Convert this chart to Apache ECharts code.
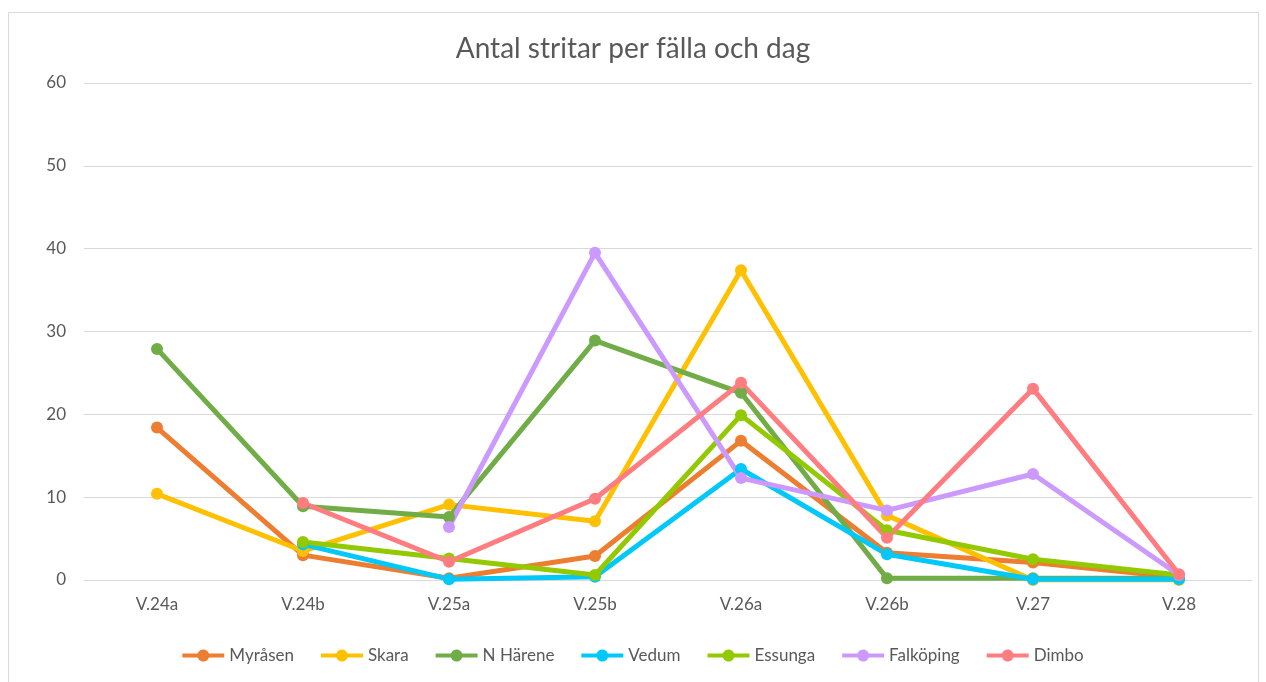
<!DOCTYPE html>
<html><head><meta charset="utf-8">
<script src="https://cdn.jsdelivr.net/npm/echarts@6/dist/echarts.min.js"></script>
<style>html,body{margin:0;padding:0;background:#fff}#c{width:1266px;height:682px}</style>
</head><body><div id="c"></div>
<script>
const categories = ['V.24a','V.24b','V.25a','V.25b','V.26a','V.26b','V.27','V.28'];
const myrasen   = [18.4, 3.0, 0.2, 2.9, 16.8, 3.3, 2.1, 0.3];
const skara     = [10.4, 3.5, 9.1, 7.1, 37.4, 7.8, 0.0, 0.0];
const nHarene   = [27.9, 8.9, 7.6, 28.9, 22.6, 0.2, 0.2, 0.2];
const vedum     = [null, 4.3, 0.1, 0.4, 13.4, 3.1, 0.1, 0.1];
const essunga   = [null, 4.6, 2.6, 0.6, 19.9, 6.0, 2.5, 0.6];
const falkoping = [null, null, 6.4, 39.5, 12.3, 8.4, 12.8, 0.6];
const dimbo     = [null, 9.3, 2.2, 9.8, 23.8, 5.1, 23.1, 0.7];
const seriesNames = ['Myråsen','Skara','N Härene','Vedum','Essunga','Falköping','Dimbo'];
const seriesData = [myrasen, skara, nHarene, vedum, essunga, falkoping, dimbo];
const colors = ['#ED7D31','#FFC000','#70AD47','#00C8F8','#92C900','#CC99FF','#FF7C80'];

const legendIcon = 'path://M0,4 L15.34,4 A6,6 0 0 1 26.66,4 L42,4 L42,8 L26.66,8 A6,6 0 0 1 15.34,8 L0,8 Z';

const chart = echarts.init(document.getElementById('c'));
const font = 'Lato, "Open Sans", sans-serif';
chart.setOption({
  animation: false,
  color: colors,
  title: {
    text: 'Antal stritar per fälla och dag',
    left: 'center', top: 30,
    textStyle: {fontFamily: font, fontSize: 28, fontWeight: 'normal', color: '#595959'}
  },
  graphic: [{
    type: 'rect', shape: {x: 8.5, y: 12.5, width: 1250, height: 720},
    style: {fill: 'none', stroke: '#D9D9D9', lineWidth: 1}, silent: true
  }],
  legend: {
    bottom: 13, left: 'center',
    icon: legendIcon,
    itemWidth: 42, itemHeight: 12, itemGap: 27,
    textStyle: {fontFamily: font, fontSize: 17, color: '#595959'},
    data: seriesNames
  },
  grid: {left: 84, right: 14, top: 83, bottom: 102, containLabel: false},
  xAxis: {
    type: 'category', data: categories, boundaryGap: true,
    axisLine: {show: true, lineStyle: {color: '#D9D9D9'}},
    axisTick: {show: false},
    axisLabel: {fontFamily: font, fontSize: 17, color: '#595959', margin: 16}
  },
  yAxis: {
    type: 'value', min: 0, max: 60, interval: 10,
    axisLine: {show: false}, axisTick: {show: false},
    splitLine: {lineStyle: {color: '#D9D9D9', width: 1}},
    axisLabel: {fontFamily: font, fontSize: 17, color: '#595959', margin: 18}
  },
  series: seriesData.map((d, i) => ({
    name: seriesNames[i], type: 'line', data: d,
    symbol: 'circle', symbolSize: 12, showAllSymbol: true,
    lineStyle: {width: 5, color: colors[i]},
    itemStyle: {color: colors[i]},
    connectNulls: false
  }))
});
</script></body></html>
